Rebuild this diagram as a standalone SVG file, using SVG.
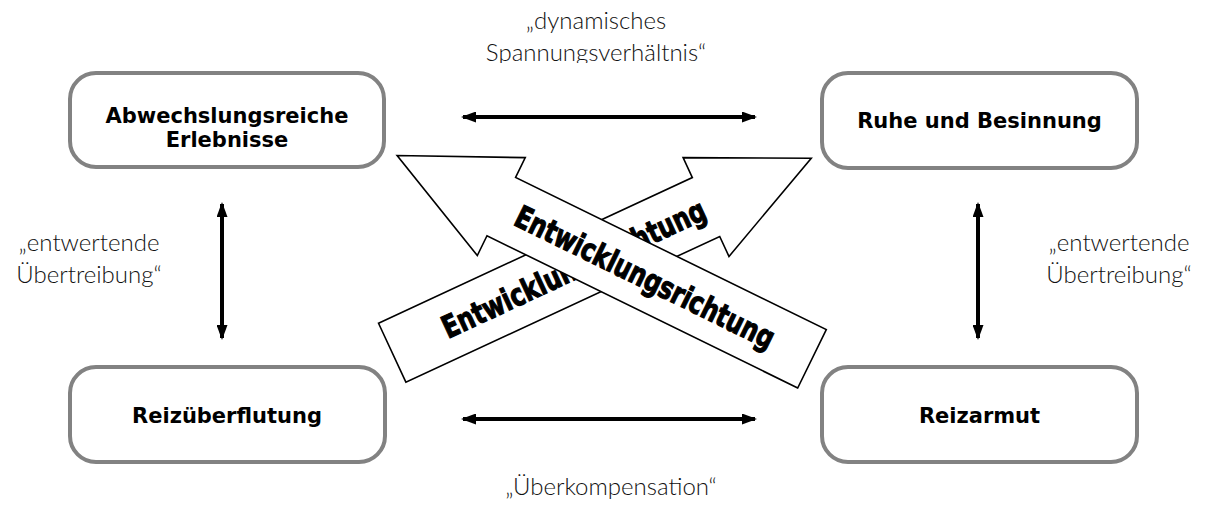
<svg xmlns="http://www.w3.org/2000/svg" width="1212" height="506" viewBox="0 0 1212 506">
<style>
.box{fill:#fff;stroke:#828282;stroke-width:4}
.nt{font-family:"DejaVu Sans",Verdana,sans-serif;font-weight:bold;font-size:21px;fill:#000;text-anchor:middle}
.lb{font-family:Lato,"Open Sans",sans-serif;font-weight:300;font-size:24px;fill:#111;text-anchor:middle}
.con{stroke:#000;stroke-width:4;fill:none;marker-start:url(#ah);marker-end:url(#ah)}
.big{fill:#fff;stroke:#000;stroke-width:1.6;stroke-linejoin:miter}
.wa{font-family:"DejaVu Sans Condensed","DejaVu Sans",sans-serif;font-weight:bold;font-size:31px;fill:#000;stroke:#000;stroke-width:1.1;text-anchor:middle}
</style>
<defs>
<marker id="ah" markerUnits="userSpaceOnUse" markerWidth="15" markerHeight="11" refX="13" refY="5.5" orient="auto-start-reverse">
<path d="M0,0 L15,5.5 L0,11 z" fill="#000"/>
</marker>
<clipPath id="clipTop"><rect x="0" y="0" width="1212" height="63"/></clipPath>
<polygon id="bigArrow" points="0,-32.5 346,-32.5 346,-54.5 462,0 346,54.5 346,32.5 0,32.5"/>
</defs>
<rect width="1212" height="506" fill="#fff"/>

<g id="connectors">
<line class="con" x1="463" y1="117" x2="755" y2="117"/>
<line class="con" x1="463" y1="419" x2="755" y2="419"/>
<line class="con" x1="222" y1="204" x2="222" y2="338"/>
<line class="con" x1="978" y1="204" x2="978" y2="338"/>
<g id="labels">
<text class="lb" clip-path="url(#clipTop)"><tspan x="596" y="29">„dynamisches</tspan><tspan x="596" y="61">Spannungsverhältnis“</tspan></text>
<text class="lb"><tspan x="89" y="251">„entwertende</tspan><tspan x="89" y="283">Übertreibung“</tspan></text>
<text class="lb"><tspan x="1119" y="251">„entwertende</tspan><tspan x="1119" y="283">Übertreibung“</tspan></text>
<text class="lb" x="611" y="495">„Überkompensation“</text>
</g>
</g>

<g id="node-abwechslung">
<rect class="box" x="70" y="73" width="314" height="94" rx="26"/>
<text class="nt"><tspan x="227" y="123">Abwechslungsreiche</tspan><tspan x="227" y="147">Erlebnisse</tspan></text>
</g>
<g id="node-ruhe">
<rect class="box" x="822" y="73" width="315" height="95" rx="26"/>
<text class="nt" x="979.5" y="128">Ruhe und Besinnung</text>
</g>
<g id="node-reizueberflutung">
<rect class="box" x="70" y="367" width="315" height="95" rx="26"/>
<text class="nt" x="227" y="423">Reizüberflutung</text>
</g>
<g id="node-reizarmut">
<rect class="box" x="822" y="367" width="315" height="95" rx="26"/>
<text class="nt" x="979.5" y="423">Reizarmut</text>
</g>

<g id="entwicklungsrichtung">
<g id="arrow-up-right">
<use href="#bigArrow" class="big" transform="translate(392.2,352.7) rotate(-24.9)"/>
<text class="wa" transform="translate(573.6,268.5) rotate(-24.9)" x="0" y="11" textLength="287" lengthAdjust="spacingAndGlyphs">Entwicklungsrichtung</text>
</g>
<g id="arrow-up-left">
<use href="#bigArrow" class="big" transform="translate(812,358.8) rotate(206.1)"/>
<text class="wa" transform="translate(645,277) rotate(26.1)" x="0" y="11" textLength="285" lengthAdjust="spacingAndGlyphs">Entwicklungsrichtung</text>
</g>
</g>
</svg>
